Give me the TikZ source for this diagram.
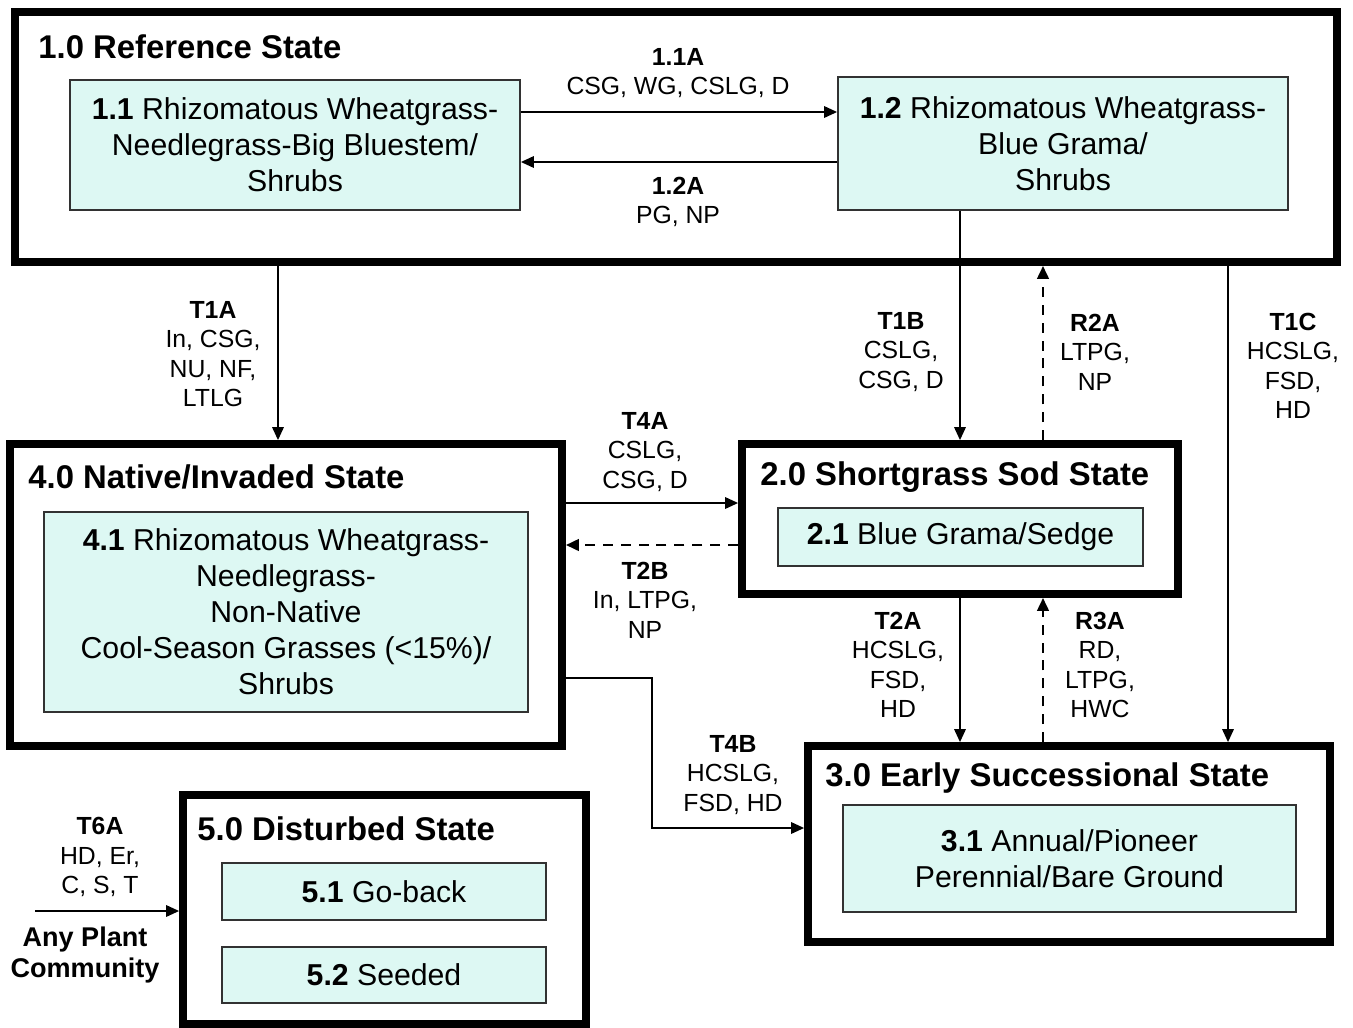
\documentclass[tikz,border=0pt]{standalone}
\usepackage{fontspec}
\setmainfont{Liberation Sans}
\usetikzlibrary{arrows.meta,fit,positioning}

\definecolor{commfill}{RGB}{221,248,243}
\definecolor{commline}{RGB}{50,50,50}
\newcommand{\commfont}{\fontsize{17.2}{20.5}\selectfont}
\newcommand{\titlefont}{\fontsize{18.7}{22}\selectfont\bfseries}
\newcommand{\lblfont}{\fontsize{14.1}{16.8}\selectfont}

\tikzset{
  statebox/.style={draw, line width=4.4pt, inner sep=0pt},
  commbox/.style={draw=commline, fill=commfill, line width=1pt, inner sep=0pt},
  commtext/.style={align=center, inner sep=0pt, font=\commfont},
  statetitle/.style={anchor=west, inner sep=0pt, font=\titlefont},
  translbl/.style={align=center, inner sep=0pt, font=\lblfont},
  trans/.style={line width=1.1pt, -{Triangle[length=7.4pt,width=6.5pt]}},
  restor/.style={trans, line width=1.6pt, dash pattern=on 5.7pt off 4.5pt},
}

\begin{document}
\begin{tikzpicture}[x=0.02cm,y=-0.02cm]
        \useasboundingbox (0,0) rectangle (1353,1028);

        % the states
        \node[statebox, fit={(15,12) (1337,262)}] (ref) {};
        \node[statebox, fit={(10,444) (562,746)}] (nat) {};
        \node[statebox, fit={(742,444) (1178,594)}] (sod) {};
        \node[statebox, fit={(808,746) (1330,942)}] (early) {};
        \node[statebox, fit={(183,795) (586,1024)}] (dist) {};

        % titles of the states
        \node[statetitle] (refttl) at (38,47) {1.0 Reference State};
        \node[statetitle] (natttl) at (28,477) {4.0 Native/Invaded State};
        \node[statetitle] (sodttl) at (760,477) {2.0 Shortgrass Sod State};
        \node[statetitle] (earlyttl) at (825,778) {3.0 Early Successional State};
        \node[statetitle] (distttl) at (197,829) {5.0 Disturbed State};

        % the plant communities
        \node[commbox, fit={(70,80) (520,210)}] (c11) {};
        \node[commbox, fit={(838,77) (1288,210)}] (c12) {};
        \node[commbox, fit={(44,512) (528,712)}] (c41) {};
        \node[commbox, fit={(778,508) (1143,566)}] (c21) {};
        \node[commbox, fit={(843,805) (1296,912)}] (c31) {};
        \node[commbox, fit={(222,863) (546,920)}] (c51) {};
        \node[commbox, fit={(222,947) (546,1003)}] (c52) {};
        % and their names
        \node[commtext] (c11txt) at (c11) {\textbf{1.1} Rhizomatous Wheatgrass-\\Needlegrass-Big Bluestem/\\Shrubs};
        \node[commtext] (c12txt) at (c12) {\textbf{1.2} Rhizomatous Wheatgrass-\\Blue Grama/\\Shrubs};
        \node[commtext] (c41txt) at (c41) {\textbf{4.1} Rhizomatous Wheatgrass-\\Needlegrass-\\Non-Native\\Cool-Season Grasses (<15\%)/\\Shrubs};
        \node[commtext] (c21txt) at (c21) {\textbf{2.1} Blue Grama/Sedge};
        \node[commtext] (c31txt) at (c31) {\textbf{3.1} Annual/Pioneer\\Perennial/Bare Ground};
        \node[commtext] (c51txt) at (c51) {\textbf{5.1} Go-back};
        \node[commtext] (c52txt) at (c52) {\textbf{5.2} Seeded};

        % the transitions and pathways
        \draw[trans] (c11.east |- 0,112) -- (c12.west |- 0,112);
        \draw[trans] (c12.west |- 0,162) -- (c11.east |- 0,162);
        \draw[trans] (ref.south -| 278,0) -- (nat.north -| 278,0);
        \draw[trans] (c12.south -| 960,0) -- (sod.north -| 960,0);
        \draw[restor] (sod.north -| 1043,0) -- (ref.south -| 1043,0);
        \draw[trans] (ref.south -| 1228,0) -- (early.north -| 1228,0);
        \draw[trans] (nat.east |- 0,503) -- (sod.west |- 0,503);
        \draw[restor] (sod.west |- 0,545) -- (nat.east |- 0,545);
        \draw[trans] (sod.south -| 960,0) -- (early.north -| 960,0);
        \draw[restor] (early.north -| 1043,0) -- (sod.south -| 1043,0);
        \coordinate (t4bbend) at (652,828);
        \draw[trans] (nat.east |- 0,678) -| (t4bbend) -- (early.west |- t4bbend);
        \coordinate (anyplant) at (35,911);
        \draw[trans] (anyplant) -- (dist.west |- anyplant);

        % labels of the transitions
        \foreach \nm/\code/\x/\y/\txt in {
            a11/1.1A/678/73/{CSG, WG, CSLG, D},
            a12/1.2A/678/202/{PG, NP},
            t1a/T1A/213/354/{In, CSG,\\NU, NF,\\LTLG},
            t1b/T1B/901/352/{CSLG,\\CSG, D},
            r2a/R2A/1095/352/{LTPG,\\NP},
            t1c/T1C/1293/366/{HCSLG,\\FSD,\\HD},
            t4a/T4A/645/452/{CSLG,\\CSG, D},
            t2b/T2B/645/600/{In, LTPG,\\NP},
            t2a/T2A/898/665/{HCSLG,\\FSD,\\HD},
            r3a/R3A/1100/665/{RD,\\LTPG,\\HWC},
            t4b/T4B/733/775/{HCSLG,\\FSD, HD},
            t6a/T6A/100/857/{HD, Er,\\C, S, T}}
        {
          \node[translbl] (lbl\nm) at (\x,\y) {\textbf{\code}\\\txt};
        }
        \node[align=center, inner sep=0pt, font=\fontsize{15.4}{17.6}\selectfont\bfseries] (anyttl)
          at (85,955) {Any Plant\\Community};
\end{tikzpicture}
\end{document}
